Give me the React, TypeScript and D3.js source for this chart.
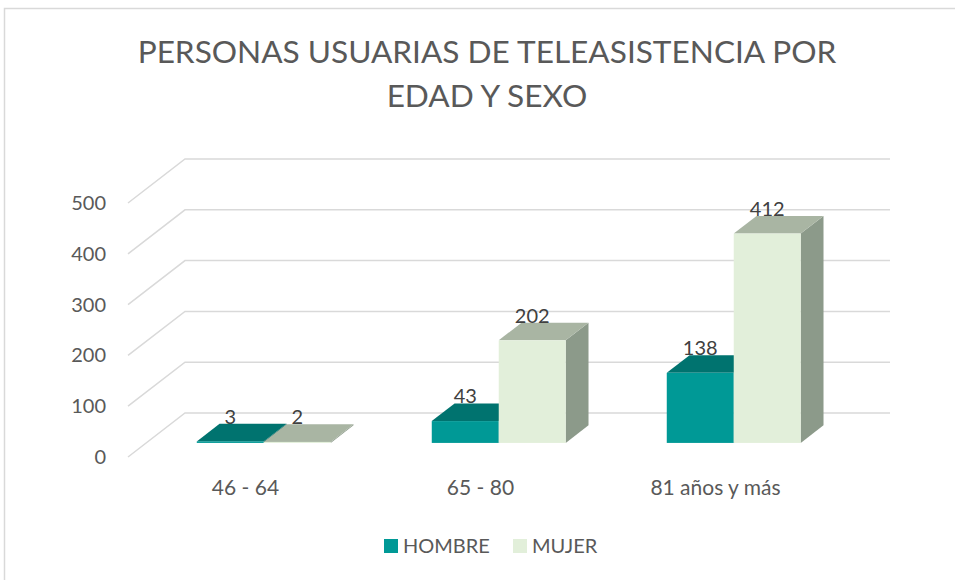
import React from "react";
import * as d3 from "d3";

const categories = ["46 - 64", "65 - 80", "81 años y más"];
const seriesNames = ["HOMBRE", "MUJER"];
const hombre = [3, 43, 138];
const mujer = [2, 202, 412];
const yTicks = [0, 100, 200, 300, 400, 500];
const titleLines = ["PERSONAS USUARIAS DE TELEASISTENCIA POR", "EDAD Y SEXO"];

const colors = {
  HOMBRE: { front: "#009996", top: "#00736f", side: "#006663" },
  MUJER: { front: "#e2efda", top: "#a9b5a3", side: "#8c9a8a" },
};

const FONT = "Lato, 'Open Sans', sans-serif";

export default function App() {
  const W = 955, H = 580;
  const frontLeft = 128, frontRight = 833;
  const depthX = 57, depthY = -44;
  const f0 = 0.32, f1 = 0.72;

  const y = d3.scaleLinear().domain([0, 500]).range([457, 203]);
  const x = d3.scaleBand<string>().domain(categories).range([frontLeft, frontRight]).paddingInner(0.43).paddingOuter(0.215);
  const xs = d3.scaleBand<string>().domain(seriesNames).range([0, x.bandwidth()]);

  const series = [
    { name: "HOMBRE", values: hombre },
    { name: "MUJER", values: mujer },
  ];

  const bars: React.ReactNode[] = [];
  const labels: React.ReactNode[] = [];
  categories.forEach((cat, ci) => {
    series.forEach((s) => {
      const v = s.values[ci];
      const c = (colors as any)[s.name];
      const xl = (x(cat) as number) + (xs(s.name) as number) + f0 * depthX;
      const xr = xl + xs.bandwidth();
      const yb = y(0) + f0 * depthY;
      const yt = y(v) + f0 * depthY;
      const ddx = (f1 - f0) * depthX, ddy = (f1 - f0) * depthY;
      const side = `M${xr},${yt} L${xr + ddx},${yt + ddy} L${xr + ddx},${yb + ddy} L${xr},${yb} Z`;
      const top = `M${xl},${yt} L${xl + ddx},${yt + ddy} L${xr + ddx},${yt + ddy} L${xr},${yt} Z`;
      bars.push(
        <g key={cat + s.name}>
          <path d={side} fill={c.side} />
          <path d={top} fill={c.top} />
          <rect x={xl} y={yt} width={xr - xl} height={Math.max(0, yb - yt)} fill={c.front} />
        </g>
      );
      labels.push(
        <text key={"l" + cat + s.name} x={(xl + xr) / 2} y={yt + ddy} textAnchor="middle" fontFamily={FONT} fontSize={20} fill="#404040">
          {v}
        </text>
      );
    });
  });

  return (
    <svg width={W} height={H} style={{ position: "absolute", left: 0, top: 0, background: "#fff" }}>
      <rect x={0} y={0} width={W} height={H} fill="#fff" />
      <rect x={4.5} y={8.5} width={980} height={600} fill="none" stroke="#d9d9d9" strokeWidth={1.5} />
      {titleLines.map((t, i) => (
        <text key={t} x={487} y={63 + i * 44} textAnchor="middle" fontFamily={FONT} fontSize={31.6} fill="#595959">
          {t}
        </text>
      ))}
      {yTicks.map((t) => (
        <g key={t}>
          <polyline
            points={`${frontLeft},${y(t)} ${frontLeft + depthX},${y(t) + depthY} ${frontRight + depthX},${y(t) + depthY}`}
            fill="none"
            stroke="#d9d9d9"
            strokeWidth={1.5}
          />
          <text x={106} y={y(t) + 7} textAnchor="end" fontFamily={FONT} fontSize={20} fill="#595959">
            {t}
          </text>
        </g>
      ))}
      {bars}
      {labels}
      {categories.map((c) => (
        <text key={c} x={(x(c) as number) + x.bandwidth() / 2} y={495} textAnchor="middle" fontFamily={FONT} fontSize={21} fill="#595959">
          {c}
        </text>
      ))}
      {seriesNames.map((n, i) => {
        const lx = i === 0 ? 384 : 513;
        return (
          <g key={n}>
            <rect x={lx} y={539} width={14} height={14} fill={(colors as any)[n].front} />
            <text x={lx + 19} y={553} fontFamily={FONT} fontSize={20} fill="#595959">
              {n}
            </text>
          </g>
        );
      })}
    </svg>
  );
}
